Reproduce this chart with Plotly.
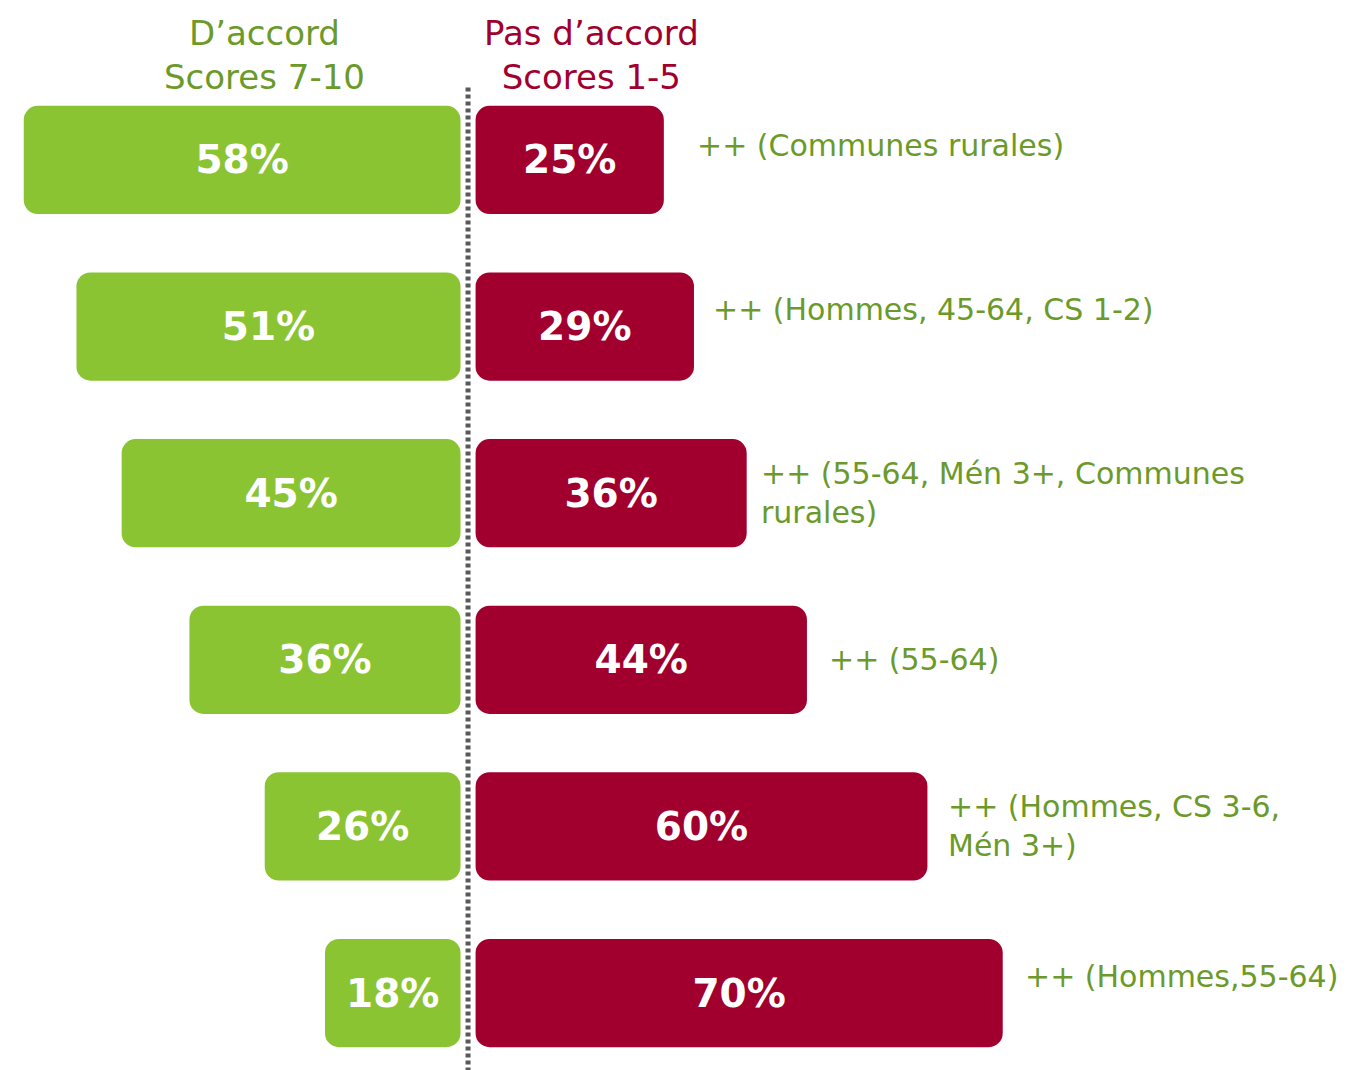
import plotly.graph_objects as go

rows = ["r1", "r2", "r3", "r4", "r5", "r6"]
agree = [58, 51, 45, 36, 26, 18]
disagree = [25, 29, 36, 44, 60, 70]
notes = [
    "++ (Communes rurales)",
    "++ (Hommes, 45-64, CS 1-2)",
    "++ (55-64, Mén 3+, Communes<br>rurales)",
    "++ (55-64)",
    "++ (Hommes, CS 3-6,<br>Mén 3+)",
    "++ (Hommes,55-64)",
]
header_agree = "D’accord<br>Scores 7-10"
header_disagree = "Pas d’accord<br>Scores 1-5"

GREEN = "#8AC432"
RED = "#A1002F"
TEXT_GREEN = "#6B9A2A"
FONT = "DejaVu Sans"
GAP = 1.0

# layout tweaks for the note labels (pixels)
note_xshift = [31, 17, 12, 20, 19, 20]
note_yshift = [14, 17, 0, 0, 0, 17]

fig = go.Figure()
fig.add_trace(go.Bar(
    y=rows, x=[-v for v in agree], base=[-GAP] * len(agree), orientation="h",
    marker=dict(color=GREEN, line=dict(width=0)), width=0.65,
    text=[f"{v}%" for v in agree], textposition="inside", insidetextanchor="middle",
    textfont=dict(family=FONT, size=39, color="white", weight="bold"),
    hoverinfo="skip",
))
fig.add_trace(go.Bar(
    y=rows, x=disagree, base=[GAP] * len(disagree), orientation="h",
    marker=dict(color=RED, line=dict(width=0)), width=0.65,
    text=[f"{v}%" for v in disagree], textposition="inside", insidetextanchor="middle",
    textfont=dict(family=FONT, size=39, color="white", weight="bold"),
    hoverinfo="skip",
))

for r, v, n, xs, ys in zip(rows, disagree, notes, note_xshift, note_yshift):
    fig.add_annotation(x=v + GAP, y=r, text=n, xanchor="left", yanchor="middle",
                       xshift=xs, yshift=ys, showarrow=False, align="left",
                       font=dict(family=FONT, size=30, color=TEXT_GREEN))

fig.add_annotation(x=-27, y=1, yref="paper", text=header_agree, showarrow=False,
                   xanchor="center", yanchor="top", yshift=-3,
                   font=dict(family=FONT, size=34, color=TEXT_GREEN))
fig.add_annotation(x=16.4, y=1, yref="paper", text=header_disagree, showarrow=False,
                   xanchor="center", yanchor="top", yshift=-3,
                   font=dict(family=FONT, size=34, color=RED))

fig.add_shape(type="line", x0=0, x1=0, xref="x", y0=-0.02, y1=0.928, yref="paper",
              line=dict(color="#595959", width=5, dash="4px,3px"))

fig.update_layout(
    width=1366, height=1070, margin=dict(l=0, r=0, t=0, b=0),
    paper_bgcolor="white", plot_bgcolor="white",
    barmode="overlay", barcornerradius=14, showlegend=False,
    xaxis=dict(range=[-61.09, 120.3], visible=False, fixedrange=True),
    yaxis=dict(categoryorder="array", categoryarray=rows, range=[5.51, -0.912],
               visible=False, fixedrange=True),
    uniformtext=dict(mode=False),
)

fig.write_html("out.html")
